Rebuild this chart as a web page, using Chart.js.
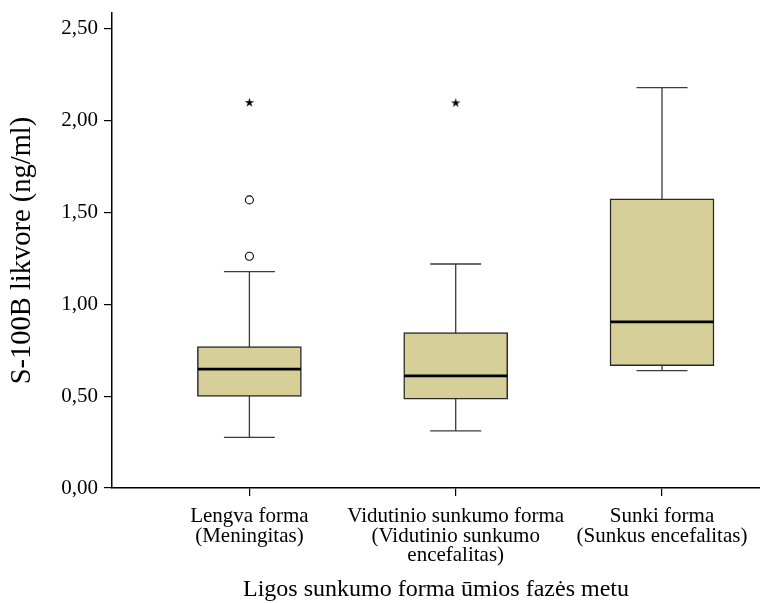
<!DOCTYPE html>
<html>
<head>
<meta charset="utf-8">
<script src="https://cdn.jsdelivr.net/npm/chart.js@4/dist/chart.umd.min.js"></script>
<style>
html,body{margin:0;padding:0;background:#fff;}
#wrap{width:760px;height:603px;}
</style>
</head>
<body>
<div id="wrap"><canvas id="c" width="760" height="603"></canvas></div>
<script>
// ---- data ----
const categories = [
  ["Lengva forma", "(Meningitas)"],
  ["Vidutinio sunkumo forma", "(Vidutinio sunkumo", "encefalitas)"],
  ["Sunki forma", "(Sunkus encefalitas)"]
];
const positions = [1, 2, 3];
const whiskerLow  = [0.275, 0.311, 0.639];
const q1          = [0.498, 0.484, 0.666];
const median      = [0.647, 0.610, 0.904];
const q3          = [0.770, 0.846, 1.574];
const whiskerHigh = [1.177, 1.219, 2.179];
const outlierPos  = [1, 1];
const outlierVal  = [1.261, 1.568];
const extremePos  = [1, 2];
const extremeVal  = [2.098, 2.096];
const yTicks = [0, 0.5, 1.0, 1.5, 2.0, 2.5];
const yTitle = "S-100B likvore (ng/ml)";
const xTitle = "Ligos sunkumo forma ūmios fazės metu";

// ---- star glyph for extreme values ----
function makeStar(){
  const c = document.createElement('canvas');
  c.width = 11; c.height = 11;
  const g = c.getContext('2d');
  g.fillStyle = '#000';
  g.beginPath();
  for (let i = 0; i < 10; i++) {
    const r = i % 2 === 0 ? 5 : 1.8;
    const a = -Math.PI/2 + i * Math.PI/5;
    const px = 5.5 + r*Math.cos(a), py = 5.8 + r*Math.sin(a);
    if (i === 0) g.moveTo(px, py); else g.lineTo(px, py);
  }
  g.closePath(); g.fill();
  return c;
}

const whiskerData = [];
positions.forEach((p, i) => {
  whiskerData.push({x: p, y: whiskerLow[i]});
  whiskerData.push({x: p, y: whiskerHigh[i]});
  whiskerData.push({x: p, y: null});
});
const capData = [];
positions.forEach((p, i) => {
  capData.push({x: p, y: whiskerLow[i]});
  capData.push({x: p, y: whiskerHigh[i]});
});

Chart.defaults.font.family = "'Liberation Serif', 'Times New Roman', serif";
Chart.defaults.color = '#000';

new Chart(document.getElementById('c'), {
  type: 'bar',
  data: {
    datasets: [
      { type: 'line', data: whiskerData, borderColor: '#3a3a3a', borderWidth: 1.3,
        pointRadius: 0, spanGaps: false, fill: false, order: 10 },
      { type: 'scatter', data: capData, pointStyle: 'line', pointRadius: 25.5,
        borderColor: '#3a3a3a', borderWidth: 1.3, order: 3 },
      { type: 'bar', data: positions.map((p, i) => ({x: p, y: [q1[i], q3[i]]})),
        backgroundColor: '#d6d098', borderColor: '#2a2a2a', borderWidth: 1.5,
        borderSkipped: false, barThickness: 104, order: 5 },
      { type: 'scatter', data: positions.map((p, i) => ({x: p, y: median[i]})),
        pointStyle: 'line', pointRadius: 51.5, borderColor: '#000', borderWidth: 2.6, order: 2 },
      { type: 'scatter', data: outlierPos.map((p, i) => ({x: p, y: outlierVal[i]})),
        pointStyle: 'circle', pointRadius: 4, borderColor: '#000', backgroundColor: '#fff',
        borderWidth: 1.1, order: 1 },
      { type: 'scatter', data: extremePos.map((p, i) => ({x: p, y: extremeVal[i]})),
        pointStyle: makeStar(), pointRadius: 5, order: 0 }
    ]
  },
  options: {
    responsive: false,
    animation: false,
    events: [],
    layout: { autoPadding: false, padding: { top: 13, right: 0, bottom: 0, left: 0 } },
    plugins: { legend: { display: false }, tooltip: { enabled: false } },
    scales: {
      x: {
        type: 'linear', min: 0.334, max: 3.475, offset: false,
        afterBuildTicks: s => { s.ticks = positions.map(v => ({value: v})); },
        afterFit: s => { s.height = 115; s.paddingLeft = 0; s.paddingRight = 0; },
        grid: { display: true, drawOnChartArea: false, drawTicks: true, tickLength: 8,
                color: '#000', lineWidth: 1.2, offset: false },
        border: { display: true, color: '#000', width: 1.5 },
        ticks: { autoSkip: false, maxRotation: 0, minRotation: 0, padding: 11,
                 font: { size: 21, lineHeight: 0.93 },
                 callback: (v) => categories[positions.indexOf(v)] },
        title: { display: true, text: xTitle, font: { size: 24, lineHeight: 1 },
                 padding: { top: 0, bottom: 1 } }
      },
      y: {
        type: 'linear', min: 0, max: 2.585,
        afterBuildTicks: s => { s.ticks = yTicks.map(v => ({value: v})); },
        afterFit: s => { s.width = 112; s.paddingTop = 0; s.paddingBottom = 0; },
        grid: { display: true, drawOnChartArea: false, drawTicks: true, tickLength: 8,
                color: '#000', lineWidth: 1.2 },
        border: { display: true, color: '#000', width: 1.5 },
        ticks: { padding: 6, font: { size: 21, lineHeight: 1 },
                 callback: v => v.toFixed(2).replace('.', ',') },
        title: { display: true, text: yTitle, font: { size: 28.5, lineHeight: 1 },
                 padding: { top: 8, bottom: 0 } }
      }
    }
  }
});
</script>
</body>
</html>
